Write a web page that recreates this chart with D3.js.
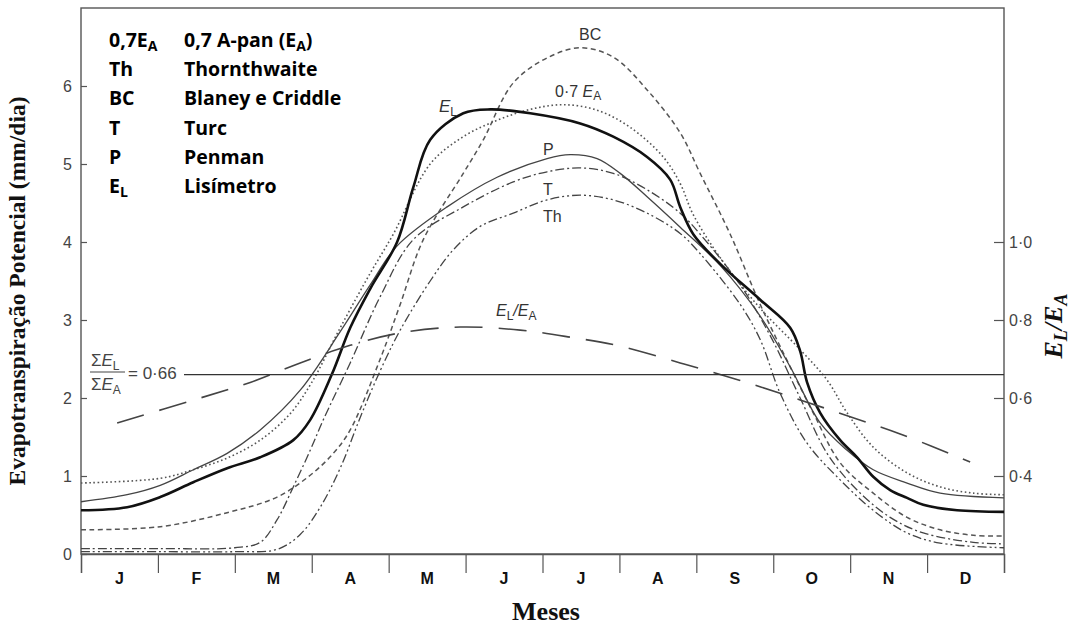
<!DOCTYPE html>
<html><head><meta charset="utf-8">
<script src="https://cdn.jsdelivr.net/npm/d3@7"></script>
<style>body{margin:0;background:#fff}svg{display:block}</style>
</head><body><svg id="c" width="1074" height="628"></svg>
<script>
// ---- data ----
const monthLabels = ["J","F","M","A","M","J","J","A","S","O","N","D"];
const leftTicks = [0,1,2,3,4,5,6];
const rightTicks = [0.4,0.6,0.8,1.0];
const ratioMean = 0.66;

// Lisímetro E_L
const elMonths = [0,0.6,1.03,1.46,1.9,2.33,2.76,2.98,3.26,3.5,3.76,4.11,4.32,4.54,4.97,5.32,5.84,6.49,6.92,7.36,7.66,7.79,7.96,8.31,8.83,9.22,9.35,9.44,9.61,9.87,10.09,10.3,10.52,10.74,10.95,11.39,12];
const elValues = [0.56,0.6,0.73,0.92,1.1,1.24,1.46,1.72,2.3,2.9,3.4,4.0,4.7,5.31,5.65,5.7,5.65,5.52,5.35,5.09,4.8,4.45,4.1,3.72,3.26,2.9,2.6,2.2,1.81,1.46,1.24,0.99,0.82,0.72,0.63,0.56,0.54];
// Penman P
const pMonths = [0,0.6,1.03,1.46,1.9,2.33,2.85,3.37,3.76,4.11,4.76,5.41,6.06,6.36,6.71,7.01,7.36,7.79,8.31,8.83,9.22,9.61,9.96,10.3,10.74,11.17,12];
const pValues = [0.67,0.76,0.88,1.08,1.29,1.59,2.1,2.85,3.45,3.95,4.45,4.83,5.07,5.12,5.07,4.88,4.58,4.19,3.7,3.05,2.4,1.68,1.33,1.08,0.91,0.78,0.72];
// 0,7 A-pan
const eaMonths = [0,1.03,1.46,1.9,2.33,2.72,3.0,3.37,3.76,4.06,4.54,4.97,5.41,5.84,6.27,6.71,7.14,7.57,7.79,7.96,8.31,8.83,9.35,9.7,9.96,10.3,10.74,11.17,11.6,12];
const eaValues = [0.91,0.97,1.08,1.23,1.46,1.8,2.2,2.9,3.6,4.1,5.0,5.35,5.56,5.7,5.76,5.69,5.47,5.09,4.75,4.35,3.8,3.15,2.62,2.23,1.81,1.37,1.04,0.86,0.78,0.76];
// Blaney e Criddle
const bcMonths = [0,1.03,1.9,2.55,2.98,3.28,3.5,3.89,4.15,4.45,4.97,5.23,5.62,6.06,6.49,6.92,7.36,7.79,8.05,8.44,8.83,9.22,9.52,9.87,10.3,10.74,11.17,11.6,12];
const bcValues = [0.31,0.35,0.53,0.73,1.01,1.29,1.59,2.5,3.2,4.03,4.88,5.31,6.04,6.36,6.49,6.37,5.95,5.4,4.88,4.1,3.2,2.4,1.81,1.17,0.78,0.47,0.31,0.24,0.23];
// Turc
const tMonths = [0,1.0,2.0,2.33,2.55,2.76,2.98,3.15,3.5,3.89,4.32,4.97,5.62,6.06,6.49,6.92,7.36,7.79,8.05,8.57,8.96,9.35,9.7,10.09,10.52,10.95,11.6,12];
const tValues = [0.07,0.07,0.08,0.15,0.44,0.86,1.33,1.72,2.45,3.3,4.03,4.45,4.77,4.9,4.95,4.88,4.67,4.37,4.1,3.45,2.8,2.0,1.29,0.82,0.47,0.27,0.15,0.13];
// Thornthwaite
const thMonths = [0,1.0,2.0,2.55,2.85,3.11,3.37,3.63,3.89,4.15,4.54,4.84,5.19,5.62,6.06,6.49,6.92,7.36,7.79,8.05,8.57,8.83,9.09,9.44,9.87,10.3,10.74,11.17,12];
const thValues = [0.03,0.03,0.03,0.06,0.25,0.6,1.1,1.75,2.35,2.87,3.5,3.9,4.2,4.37,4.54,4.6,4.54,4.37,4.11,3.85,3.2,2.75,2.06,1.42,0.95,0.56,0.27,0.14,0.08];
// E_L / E_A ratio (right axis)
const ratioMonths = [0.47,1.55,2.2,2.85,3.5,4.15,4.93,5.71,6.36,7.01,7.79,8.57,9.35,10.0,10.65,11.56];
const ratioValues = [0.536,0.60,0.64,0.69,0.735,0.767,0.782,0.774,0.756,0.733,0.69,0.645,0.595,0.552,0.508,0.436];

const legendCodes = ["0,7E|A","Th","BC","T","P","E|L"];
const legendNames = ["0,7 A-pan (E|A)","Thornthwaite","Blaney e Criddle","Turc","Penman","Lisímetro"];

// ---- drawing ----
const svg = d3.select("#c");
const x = d3.scaleLinear().domain([0,12]).range([81,1004]);
const y = d3.scaleLinear().domain([0,7]).range([554,8]);
const yR = d3.scaleLinear().domain([0.2,1.6]).range([554,8]);
const zip = (a,b)=>a.map((m,i)=>[m,b[i]]);
const axisColor = "#555";
const sans = "Liberation Sans, Arial, sans-serif";
const serif = "Liberation Serif, Times New Roman, serif";

// frame
svg.append("rect").attr("x",x(0)).attr("y",y(7)).attr("width",x(12)-x(0)).attr("height",y(0)-y(7))
  .attr("fill","none").attr("stroke",axisColor).attr("stroke-width",1.4);

// left axis
const gl = svg.append("g").attr("transform",`translate(${x(0)},0)`)
  .call(d3.axisLeft(y).tickValues(leftTicks).tickSize(-6).tickPadding(9).tickFormat(d3.format("d")));
gl.select(".domain").remove();
gl.selectAll("line").attr("stroke",axisColor).attr("stroke-width",1.2);
gl.selectAll("text").attr("font-family",sans).attr("font-size",16).attr("fill","#444");

// right axis
const gr = svg.append("g").attr("transform",`translate(${x(12)},0)`)
  .call(d3.axisRight(yR).tickValues(rightTicks).tickSize(-10).tickPadding(5).tickFormat(d=>d.toFixed(1).replace(".","·")));
gr.select(".domain").remove();
gr.selectAll("line").attr("stroke",axisColor).attr("stroke-width",1.2);
gr.selectAll("text").attr("font-family",sans).attr("font-size",16).attr("fill","#444");

// bottom axis: month boundaries
const gb = svg.append("g").attr("transform",`translate(0,${y(0)})`)
  .call(d3.axisBottom(x).tickValues(d3.range(13)).tickSize(19).tickFormat(""));
gb.select(".domain").attr("stroke",axisColor).attr("stroke-width",1.4);
gb.selectAll("line").attr("stroke",axisColor).attr("stroke-width",1.2);
svg.append("g").selectAll("text").data(monthLabels).join("text")
  .attr("x",(d,i)=>x(i+0.5)).attr("y",584).attr("text-anchor","middle")
  .attr("font-family",sans).attr("font-weight","bold").attr("font-size",16)
  .attr("fill","#111").text(d=>d);

// curves
const line = d3.line().x(d=>x(d[0])).y(d=>y(d[1])).curve(d3.curveCatmullRom.alpha(0.5));
const lineR = d3.line().x(d=>x(d[0])).y(d=>yR(d[1])).curve(d3.curveCatmullRom.alpha(0.5));
const curves = [
  {pts: zip(bcMonths,bcValues), stroke:"#555", w:1.5, dash:"5,3.5"},
  {pts: zip(eaMonths,eaValues), stroke:"#555", w:1.6, dash:"1.6,2.6"},
  {pts: zip(tMonths,tValues), stroke:"#444", w:1.3, dash:"9,3,2,3"},
  {pts: zip(thMonths,thValues), stroke:"#444", w:1.3, dash:"9,3,2,3,2,3"},
  {pts: zip(pMonths,pValues), stroke:"#444", w:1.3, dash:null},
  {pts: zip(elMonths,elValues), stroke:"#111", w:2.6, dash:null}
];
svg.append("g").attr("fill","none").selectAll("path").data(curves).join("path")
  .attr("d",d=>line(d.pts)).attr("stroke",d=>d.stroke).attr("stroke-width",d=>d.w)
  .attr("stroke-dasharray",d=>d.dash);
svg.append("path").attr("d",lineR(zip(ratioMonths,ratioValues))).attr("fill","none")
  .attr("stroke","#444").attr("stroke-width",1.6).attr("stroke-dasharray","28,16");

// mean ratio line
svg.append("line").attr("x1",184).attr("x2",x(12)).attr("y1",yR(ratioMean)).attr("y2",yR(ratioMean))
  .attr("stroke","#333").attr("stroke-width",1.3);
const fr = svg.append("g").attr("font-family",sans).attr("font-size",17).attr("fill","#444");
function sub(t,xx,yy,main,s){
  const tx=t.append("text").attr("x",xx).attr("y",yy);
  tx.append("tspan").text("Σ");
  tx.append("tspan").attr("font-style","italic").text(main);
  tx.append("tspan").attr("dy",4).attr("font-size",12).text(s);
}
sub(fr,91,366,"E","L");
sub(fr,91,390,"E","A");
fr.append("line").attr("x1",90).attr("x2",125).attr("y1",372).attr("y2",372).attr("stroke","#444").attr("stroke-width",1.2);
fr.append("text").attr("x",128).attr("y",379).text("= 0·66");

// curve labels
const lab = svg.append("g").attr("font-family",sans).attr("font-size",16).attr("fill","#333");
lab.append("text").attr("x",579).attr("y",40).text("BC");
(function(){const t=lab.append("text").attr("x",555).attr("y",97);
  t.append("tspan").text("0·7 ");t.append("tspan").attr("font-style","italic").text("E");
  t.append("tspan").attr("dy",3).attr("font-size",12).text("A");})();
(function(){const t=lab.append("text").attr("x",439).attr("y",112).attr("font-size",17);
  t.append("tspan").attr("font-style","italic").text("E");
  t.append("tspan").attr("dy",4).attr("font-size",12).text("L");})();
lab.append("text").attr("x",543).attr("y",155).text("P");
lab.append("text").attr("x",543).attr("y",195).text("T");
lab.append("text").attr("x",543).attr("y",222).text("Th");
(function(){const t=lab.append("text").attr("x",496).attr("y",316);
  t.append("tspan").attr("font-style","italic").text("E");
  t.append("tspan").attr("dy",4).attr("font-size",12).text("L");
  t.append("tspan").attr("dy",-4).attr("font-style","italic").text("/E");
  t.append("tspan").attr("dy",4).attr("font-size",12).text("A");})();

// legend
const leg = svg.append("g").attr("font-family","Open Sans, Noto Sans, sans-serif").attr("font-weight","bold").attr("font-size",19.5).attr("fill","#000");
function richText(g,xx,yy,str){
  const t=g.append("text").attr("x",xx).attr("y",yy);
  const parts=str.split("|");
  if(parts.length===1){t.text(str);return;}
  t.append("tspan").text(parts[0]);
  const rest=parts[1];
  const close=rest.indexOf(")");
  if(close>=0){
    t.append("tspan").attr("dy",4).attr("font-size",14).text(rest.slice(0,close));
    t.append("tspan").attr("dy",-4).text(rest.slice(close));
  } else {
    t.append("tspan").attr("dy",4).attr("font-size",14).text(rest);
  }
}
legendCodes.forEach((c,i)=>{
  richText(leg,109,47+i*29.2,c);
  richText(leg,184,47+i*29.2,legendNames[i]);
});

// axis titles
svg.append("text").attr("transform","translate(25,291) rotate(-90)").attr("text-anchor","middle")
  .attr("font-family",serif).attr("font-weight","bold").attr("font-size",23.5)
  .attr("fill","#111").text("Evapotranspiração Potencial (mm/dia)");
svg.append("text").attr("x",546).attr("y",620).attr("text-anchor","middle")
  .attr("font-family",serif).attr("font-weight","bold").attr("font-size",26)
  .attr("fill","#111").text("Meses");
(function(){const t=svg.append("text").attr("transform","translate(1062,326) rotate(-90)").attr("text-anchor","middle")
  .attr("font-family",serif).attr("font-weight","bold").attr("font-style","italic").attr("font-size",26).attr("fill","#111");
  t.append("tspan").text("E");
  t.append("tspan").attr("dy",5).attr("font-size",18).text("L");
  t.append("tspan").attr("dy",-5).text("/E");
  t.append("tspan").attr("dy",5).attr("font-size",18).text("A");})();
</script>
</body></html>
